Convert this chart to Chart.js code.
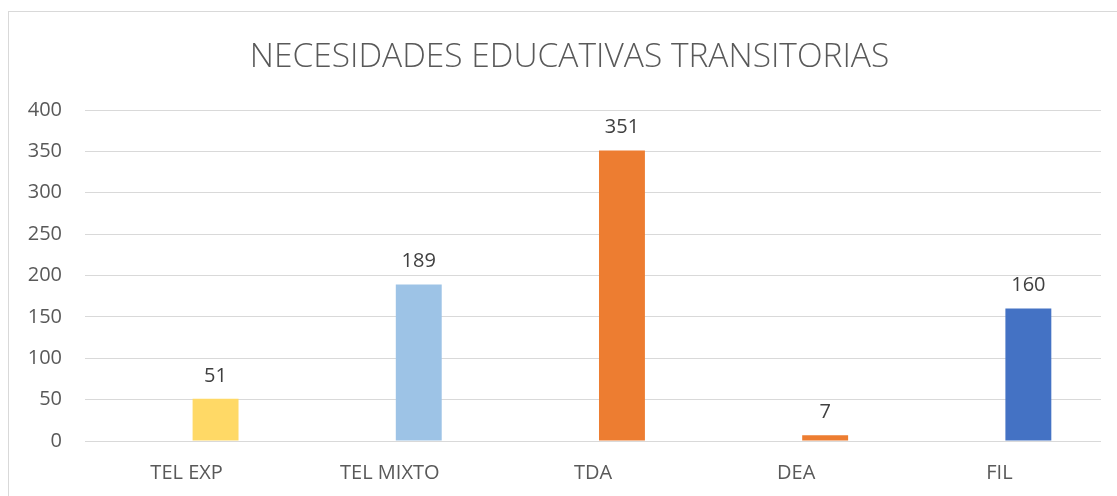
<!DOCTYPE html>
<html>
<head>
<meta charset="utf-8">
<script src="https://cdn.jsdelivr.net/npm/chart.js@4/dist/chart.umd.min.js"></script>
<style>
html,body{margin:0;padding:0;background:#fff;}
#wrap{position:relative;width:1117px;height:496px;overflow:hidden;}
#frame{position:absolute;left:8px;top:11px;width:1200px;height:600px;border:1px solid #d9d9d9;box-sizing:border-box;pointer-events:none;}
canvas{position:absolute;left:0;top:0;}
</style>
</head>
<body>
<div id="wrap">
<div id="frame"></div>
<canvas id="c" width="1117" height="496"></canvas>
</div>
<script>
const categories = ["TEL EXP", "TEL MIXTO", "TDA", "DEA", "FIL"];
const values = [51, 189, 351, 7, 160];
const emptySlot = [null, null, null, null, null];
const barColors = ["#FFD966", "#9DC3E6", "#ED7D31", "#ED7D31", "#4472C4"];
const yTicks = [0, 50, 100, 150, 200, 250, 300, 350, 400];
const titleText = "NECESIDADES EDUCATIVAS TRANSITORIAS";

const FONT = '"Open Sans", sans-serif';

const labelPlugin = {
  id: 'barLabels',
  afterDatasetsDraw(chart) {
    const ctx = chart.ctx;
    const meta = chart.getDatasetMeta(1);
    ctx.save();
    ctx.font = '20px ' + FONT;
    ctx.fillStyle = '#404040';
    ctx.textAlign = 'center';
    ctx.textBaseline = 'middle';
    meta.data.forEach((bar, i) => {
      ctx.fillText(String(values[i]), bar.x, bar.y - 23);
    });
    ctx.restore();
  }
};

const titlePlugin = {
  id: 'customTitle',
  afterDraw(chart) {
    const ctx = chart.ctx;
    ctx.save();
    ctx.font = '300 33.5px ' + FONT;
    ctx.fillStyle = '#595959';
    ctx.textAlign = 'center';
    ctx.textBaseline = 'middle';
    ctx.fillText(titleText, 569.5, 57);
    ctx.restore();
  }
};

new Chart(document.getElementById('c'), {
  type: 'bar',
  data: {
    labels: categories,
    datasets: [
      {
        data: emptySlot,
        backgroundColor: 'rgba(0,0,0,0)',
        borderWidth: 0,
        barPercentage: 0.793,
        categoryPercentage: 0.57
      },
      {
        data: values,
        backgroundColor: barColors,
        borderWidth: 0,
        barPercentage: 0.793,
        categoryPercentage: 0.57
      }
    ]
  },
  options: {
    responsive: false,
    animation: false,
    devicePixelRatio: 1,
    layout: { padding: { left: 0, right: 16, top: 110, bottom: 0 } },
    plugins: {
      legend: { display: false },
      tooltip: { enabled: false },
      title: { display: false }
    },
    scales: {
      x: {
        grid: { display: false, drawTicks: false },
        border: { display: false },
        ticks: {
          color: '#595959',
          font: { family: FONT, size: 20 },
          padding: 20,
          maxRotation: 0
        },
        afterFit(scale) { scale.height = 55; }
      },
      y: {
        min: 0,
        max: 400,
        afterBuildTicks(scale) { scale.ticks = yTicks.map(v => ({ value: v })); },
        grid: { color: '#d9d9d9', lineWidth: 1, drawTicks: false },
        border: { display: false },
        ticks: {
          color: '#595959',
          font: { family: FONT, size: 20 },
          padding: 23
        },
        afterFit(scale) { scale.width = 85; }
      }
    }
  },
  plugins: [labelPlugin, titlePlugin]
});
</script>
</body>
</html>
